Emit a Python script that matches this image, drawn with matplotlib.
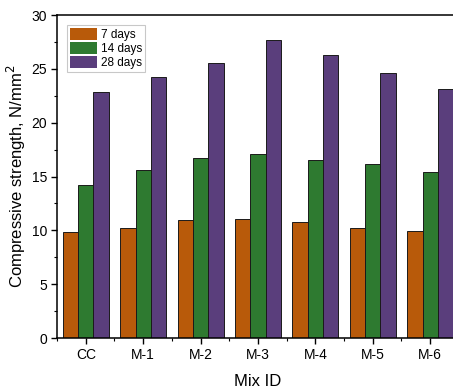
import numpy as np
import matplotlib
matplotlib.use('Agg')
import matplotlib.pyplot as plt
from matplotlib.ticker import MultipleLocator

plt.rcParams['font.family'] = ['Liberation Sans', 'DejaVu Sans']

mixes = ['CC', 'M-1', 'M-2', 'M-3', 'M-4', 'M-5', 'M-6']
days_7 = [9.85, 10.2, 10.95, 11.1, 10.75, 10.2, 9.95]
days_14 = [14.2, 15.65, 16.75, 17.1, 16.55, 16.2, 15.45]
days_28 = [22.85, 24.25, 25.5, 27.65, 26.25, 24.6, 23.15]
series_labels = ['7 days', '14 days', '28 days']
colors = ['#B85A0A', '#2E7A30', '#5A3E7C']

fig = plt.figure(figsize=(4.53, 3.91), dpi=100)
ax = fig.add_axes([0.126, 0.1355, 0.887, 0.826])

x = np.arange(1, len(mixes) + 1)
w = 0.267
for i, (vals, lab, col) in enumerate(zip([days_7, days_14, days_28], series_labels, colors)):
    ax.bar(x + (i - 1) * w, vals, width=w, color=col, edgecolor='#1a1a1a',
           linewidth=0.7, label=lab)

ax.set_xlim(0.5, 7.5)
ax.set_ylim(0, 30)
ax.set_xticks(x)
ax.set_xticklabels(mixes)
ax.set_xticks(np.arange(0.5, 8, 1), minor=True)
ax.yaxis.set_major_locator(MultipleLocator(5))
ax.yaxis.set_minor_locator(MultipleLocator(2.5))

ax.tick_params(axis='both', which='major', direction='out', length=4, width=1,
               labelsize=10, pad=3)
ax.tick_params(axis='both', which='minor', direction='out', length=2.5, width=0.8)
for s in ax.spines.values():
    s.set_linewidth(1.1)

ax.set_xlabel('Mix ID', fontsize=12, labelpad=9)
ax.set_ylabel('Compressive strength, N/mm$^2$', fontsize=12, labelpad=3)

leg = ax.legend(loc='upper left', bbox_to_anchor=(0.025, 0.97), fontsize=8.5,
                frameon=True, fancybox=False, edgecolor='#bbbbbb',
                handlelength=2.3, handleheight=1.2, handletextpad=0.3,
                labelspacing=0.08, borderpad=0.25, borderaxespad=0)
leg.get_frame().set_linewidth(0.8)
for h in leg.legend_handles:
    h.set_edgecolor('none')

fig.savefig('out.png', dpi=100)
